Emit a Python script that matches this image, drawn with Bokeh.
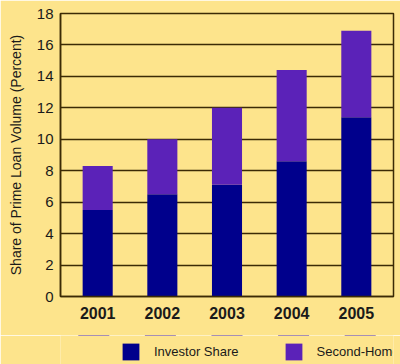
from bokeh.plotting import figure
from bokeh.layouts import column
from bokeh.models import FactorRange, Range1d, Legend, LegendItem, FixedTicker
from bokeh.embed import file_html
from bokeh.resources import INLINE

years = ["2001", "2002", "2003", "2004", "2005"]
investor = [5.5, 6.5, 7.1, 8.6, 11.4]
total = [8.3, 10.0, 12.0, 14.4, 16.9]
second_home = [round(t - i, 2) for t, i in zip(total, investor)]
y_ticks = [0, 2, 4, 6, 8, 10, 12, 14, 16, 18]
series_names = ["Investor Share", "Second-Home Share"]

BG = "#FDE48C"
LINE = "#3B2A05"
NAVY = "#00008C"
PURPLE = "#5B22B8"

p = figure(x_range=FactorRange(factors=years, range_padding=0.03),
           y_range=Range1d(0, 18), width=400, height=335,
           output_backend="svg", toolbar_location=None,
           min_border_left=60, min_border_right=7, min_border_top=13, min_border_bottom=39)
p.background_fill_color = BG
p.border_fill_color = BG
p.outline_line_color = LINE
p.outline_line_width = 1.5

data = {"years": years, "investor": investor, "second_home": second_home}
rs = p.vbar_stack(["investor", "second_home"], x="years", width=0.465, source=data,
                  color=[NAVY, PURPLE], line_color=None)

p.yaxis.ticker = FixedTicker(ticks=y_ticks)
p.ygrid.ticker = FixedTicker(ticks=y_ticks)
p.ygrid.grid_line_color = LINE
p.ygrid.grid_line_width = 1.5
p.xgrid.grid_line_color = None

for ax in (p.xaxis, p.yaxis):
    ax.major_tick_line_color = None
    ax.minor_tick_line_color = None
    ax.major_tick_out = 0
    ax.major_tick_in = 0
    ax.minor_tick_out = 0
    ax.axis_line_color = LINE
    ax.axis_line_width = 1.5

p.yaxis.major_label_text_font = "Liberation Sans"
p.yaxis.major_label_text_font_size = "15px"
p.yaxis.major_label_text_color = "#1a1a1a"
p.yaxis.major_label_standoff = 7
p.yaxis.axis_label = "Share of Prime Loan Volume (Percent)"
p.yaxis.axis_label_text_font = "Liberation Sans"
p.yaxis.axis_label_text_font_size = "14px"
p.yaxis.axis_label_text_font_style = "normal"
p.yaxis.axis_label_text_color = "#1a1a1a"
p.yaxis.axis_label_standoff = 10

p.xaxis.major_label_text_font = "Liberation Sans"
p.xaxis.major_label_text_font_size = "16px"
p.xaxis.major_label_text_font_style = "bold"
p.xaxis.major_label_text_color = "#1a1a1a"
p.xaxis.major_label_standoff = 10

# Legend strip below the chart (its bars lie outside its visible y-range)
q = figure(width=400, height=29, x_range=FactorRange(factors=years), y_range=Range1d(-2, -1),
           output_backend="svg", toolbar_location=None,
           x_axis_location=None, y_axis_location=None,
           min_border_left=0, min_border_right=0, min_border_top=0, min_border_bottom=0)
q.background_fill_color = BG
q.border_fill_color = BG
q.outline_line_color = None
q.xgrid.grid_line_color = None
q.ygrid.grid_line_color = None
qr = q.vbar_stack(["investor", "second_home"], x="years", width=0.465, source=data,
                  color=[NAVY, PURPLE], line_color=None)

legend = Legend(items=[LegendItem(label=series_names[0], renderers=[qr[0]]),
                       LegendItem(label=series_names[1], renderers=[qr[1]])],
                orientation="horizontal", location=(60, 2),
                glyph_width=21, glyph_height=21, label_standoff=13, spacing=44,
                padding=0, margin=0, border_line_color=None, background_fill_alpha=0,
                label_text_font="Liberation Sans", label_text_font_size="13px",
                label_text_color="#1a1a1a")
q.add_layout(legend, "center")

layout = column(p, q, spacing=0)
open("out.html", "w").write(file_html(layout, INLINE))
